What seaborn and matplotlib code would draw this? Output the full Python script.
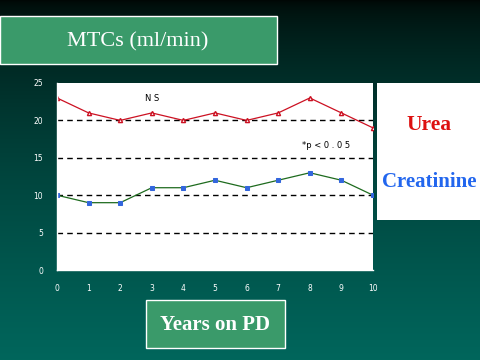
import numpy as np
import pandas as pd
import seaborn as sns
import matplotlib.pyplot as plt
from matplotlib.patches import Rectangle

years = [0, 1, 2, 3, 4, 5, 6, 7, 8, 9, 10]
urea = [23, 21, 20, 21, 20, 21, 20, 21, 23, 21, 19]
creatinine = [10, 9, 9, 11, 11, 12, 11, 12, 13, 12, 10]
y_ticks = [0, 5, 10, 15, 20, 25]

df = pd.DataFrame({"year": years, "Urea": urea, "Creatinine": creatinine})

sns.set_style("white")
plt.rcParams['font.family'] = ['DejaVu Sans']

fig = plt.figure(figsize=(4.8, 3.6), dpi=100)

# background gradient, dark at top, teal at bottom
bg = fig.add_axes([0, 0, 1, 1], zorder=0)
grad = np.linspace(0, 1, 256).reshape(-1, 1)
top = np.array([0.0, 0.03, 0.02])
bot = np.array([0.0, 0.40, 0.36])
img = top + (bot - top) * grad[:, :, None] ** 0.6
bg.imshow(img, aspect='auto', extent=[0, 1, 0, 1], origin='upper')
bg.set_axis_off()

# title box
bg.add_patch(Rectangle((0.0, 1 - 64 / 360), 277 / 480, 48 / 360, facecolor='#3a9a6a',
                       edgecolor='white', lw=1, transform=bg.transAxes))
bg.text(138 / 480, 1 - 42 / 360, "MTCs (ml/min)", color='white', fontsize=16,
        family='Liberation Serif', ha='center', va='center', transform=bg.transAxes)

# x label box
bg.add_patch(Rectangle((146 / 480, 1 - 348 / 360), 139 / 480, 48 / 360, facecolor='#3a9a6a',
                       edgecolor='white', lw=1, transform=bg.transAxes))
bg.text(215 / 480, 1 - 325 / 360, "Years on PD", color='white', fontsize=15,
        family='Liberation Serif', fontweight='bold', ha='center', va='center',
        transform=bg.transAxes)

# legend box
bg.add_patch(Rectangle((377 / 480, 1 - 220 / 360), 103 / 480, 137 / 360, facecolor='white',
                       edgecolor='none', transform=bg.transAxes))
bg.text(429 / 480, 1 - 125 / 360, "Urea", color='#dd1111', fontsize=15.5,
        family='Liberation Serif', fontweight='bold', ha='center', va='center',
        transform=bg.transAxes)
bg.text(429 / 480, 1 - 182 / 360, "Creatinine", color='#2266ee', fontsize=15,
        family='Liberation Serif', fontweight='bold', ha='center', va='center',
        transform=bg.transAxes)

ax = fig.add_axes([57 / 480, 1 - 270 / 360, 316 / 480, 187 / 360], zorder=1)
ax.set_facecolor('white')

sns.lineplot(data=df, x="year", y="Urea", ax=ax, color='#cc1122', lw=0.9,
             marker='^', markersize=3, markerfacecolor='white',
             markeredgecolor='#cc1122', markeredgewidth=1)
sns.lineplot(data=df, x="year", y="Creatinine", ax=ax, color='#1e6b1e', lw=0.9,
             marker='s', markersize=3.5, markerfacecolor='#3366dd',
             markeredgecolor='#3366dd')

for v in [5, 10, 15, 20]:
    ax.axhline(v, color='black', lw=1, ls=(0, (4, 3)), zorder=0)

ax.set_xlim(0, 10)
ax.set_ylim(0, 25)
ax.set_xticks(years)
ax.set_yticks(y_ticks)
ax.set_xlabel("")
ax.set_ylabel("")
ax.tick_params(colors='white', labelsize=5.5, length=4, width=1, direction='out',
               pad=6)
for s in ['top', 'right']:
    ax.spines[s].set_visible(False)
for s in ['left', 'bottom']:
    ax.spines[s].set_color('white')
    ax.spines[s].set_linewidth(1)

ax.text(3, 22.9, "N S", fontsize=6, ha='center', va='center', color='black')
ax.text(8.5, 16.6, "*p < 0 . 0 5", fontsize=6, ha='center', va='center', color='black')

fig.savefig("out.png", dpi=100)
